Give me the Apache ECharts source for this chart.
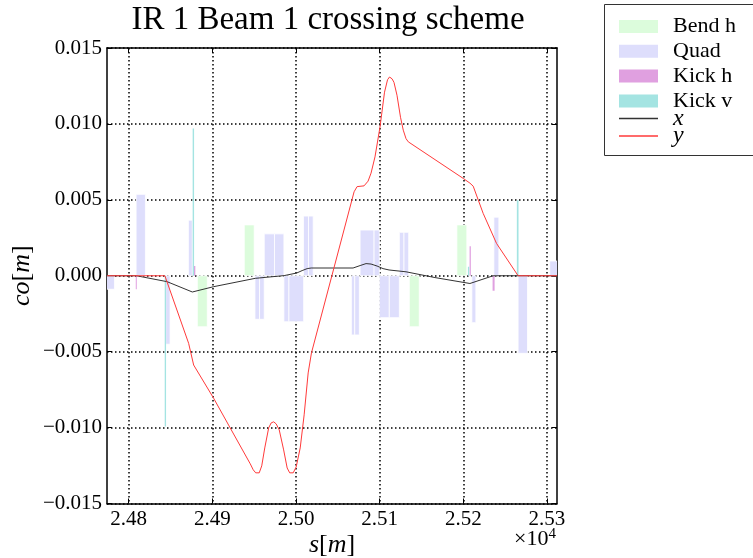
<!DOCTYPE html>
<html><head><meta charset="utf-8">
<script src="https://cdn.jsdelivr.net/npm/echarts@6/dist/echarts.min.js"></script>
<style>html,body{margin:0;padding:0;background:#fff}#c{width:753px;height:558px}</style>
</head><body><div id="c"></div>
<script>
// ---- data (s in metres, values in metres) ----
const xTickValues = [24800, 24900, 25000, 25100, 25200, 25300];
const yTickValues = [-0.015, -0.010, -0.005, 0, 0.005, 0.010, 0.015];
const seriesNames = ['Bend h', 'Quad', 'Kick h', 'Kick v', 'x', 'y'];

// elements: [s start, s end, value]
const bendH = [
  [24882.0, 24893.9, -0.00336],
  [24938.1, 24950.0, 0.00335],
  [25135.4, 25147.3, -0.00336],
  [25192.3, 25204.2, 0.00335]
];
const quad = [
  [24770.0, 24782.9, -0.00089],
  [24808.8, 24819.9, 0.00536],
  [24844.2, 24849.4, -0.00451],
  [24871.3, 24876.0, 0.00366],
  [24950.9, 24956.4, -0.00287],
  [24956.4, 24962.0, -0.00287],
  [24962.0, 24974.3, 0.00276],
  [24974.3, 24985.5, 0.00276],
  [24985.5, 24991.5, -0.00303],
  [24991.5, 25009.1, -0.00303],
  [25008.9, 25014.9, 0.00393],
  [25014.9, 25020.5, 0.00393],
  [25066.2, 25070.2, -0.00390],
  [25070.2, 25075.7, -0.00390],
  [25076.6, 25093.3, 0.00301],
  [25093.3, 25099.6, 0.00301],
  [25099.6, 25111.5, -0.00276],
  [25111.5, 25123.5, -0.00276],
  [25123.5, 25129.1, 0.00286],
  [25129.1, 25134.7, 0.00286],
  [25210.2, 25215.0, -0.00309],
  [25236.5, 25242.5, 0.00386],
  [25265.5, 25276.7, -0.00511],
  [25303.3, 25320.0, 0.00097]
];
const kickH = [
  [24808.4, 24809.6, -0.00089],
  [24877.8, 24879.6, 0.00064],
  [25207.5, 25209.0, 0.00195],
  [25235.0, 25237.4, -0.00099]
];
const kickV = [
  [24843.0, 24844.6, -0.00993],
  [24876.4, 24878.1, 0.00970],
  [25205.5, 25207.0, 0.00060],
  [25264.0, 25266.0, 0.00498]
];
// orbit x: [s, co]
const orbitX = [
  [24774.2, 0], [24809.2, 0], [24845.8, -0.00039], [24876.0, -0.00107],
  [24901.5, -0.00072], [24951.2, -0.00017], [24985.8, 0.00001], [25000.8, 0.00018],
  [25007.3, 0.00034], [25013.3, 0.00047], [25018.1, 0.00051], [25068.2, 0.00051],
  [25076.6, 0.00067], [25083.7, 0.00080], [25089.7, 0.00077], [25096.9, 0.00064],
  [25104.0, 0.00047], [25111.2, 0.00038], [25131.5, 0.00026], [25166.1, -0.00012],
  [25207.9, -0.00051], [25235.7, 0], [25312.0, 0]
];
// orbit y: [s, co]
const orbitY = [
  [24774.2, 0], [24843.2, 0], [24871.6, -0.00445], [24877.6, -0.00588],
  [24901.5, -0.00807], [24945.3, -0.01239], [24948.8, -0.01278], [24951.8, -0.01298],
  [24956.0, -0.01298], [24959.0, -0.01252], [24962.6, -0.01134], [24967.3, -0.01002],
  [24970.3, -0.00969], [24973.3, -0.00962], [24976.3, -0.00976], [24979.9, -0.01015],
  [24985.2, -0.01147], [24989.4, -0.01266], [24992.4, -0.01298], [24996.6, -0.01298],
  [25000.2, -0.01259], [25005.0, -0.01134], [25009.7, -0.00916], [25014.5, -0.00640],
  [25018.4, -0.00509], [25069.4, 0.00553], [25073.0, 0.00587], [25081.3, 0.00592],
  [25086.1, 0.00623], [25089.7, 0.00676], [25094.4, 0.00783], [25100.4, 0.00980],
  [25105.8, 0.01209], [25109.4, 0.01291], [25111.8, 0.01309], [25114.8, 0.01297],
  [25117.1, 0.01274], [25120.7, 0.01189], [25124.9, 0.01044], [25128.2, 0.00959],
  [25131.5, 0.00903], [25134.2, 0.00882], [25199.9, 0.00641], [25207.9, 0.00610],
  [25211.8, 0.00590], [25223.7, 0.00411], [25239.7, 0.00213], [25265.5, 0],
  [25312.0, 0]
];

const FONT = '"Liberation Serif", "DejaVu Serif", serif';
const COL = { bend: '#dcfcdc', quad: '#dedefc', kickh: '#e0a0e0', kickv: '#a4e4e2', x: '#333333', y: '#ff3a3a' };

function boxSeries(name, data, color, stroke) {
  return {
    name, type: 'custom', data, clip: true, z: 2,
    itemStyle: { color },
    encode: { x: [0, 1], y: 2 },
    renderItem(params, api) {
      const p0 = api.coord([api.value(0), 0]);
      const p1 = api.coord([api.value(1), api.value(2)]);
      return {
        type: 'rect',
        shape: { x: Math.min(p0[0], p1[0]), y: Math.min(p0[1], p1[1]), width: Math.abs(p1[0] - p0[0]), height: Math.abs(p1[1] - p0[1]) },
        style: { fill: color, stroke: stroke ? '#ffffff' : null, lineWidth: stroke ? 0.8 : 0 }
      };
    }
  };
}

const chart = echarts.init(document.getElementById('c'), null, { renderer: 'canvas' });
const dotted = { color: '#000', width: 1.5, type: [1.5, 2.5] };
const richItalic = { i: { fontFamily: FONT, fontStyle: 'italic', fontSize: 26, color: '#000' }, r: { fontFamily: FONT, fontSize: 26, color: '#000' } };

chart.setOption({
  animation: false,
  backgroundColor: '#fff',
  title: {
    text: 'IR 1 Beam 1 crossing scheme', left: 328, top: 4, padding: 0, textAlign: 'center',
    textStyle: { fontFamily: FONT, fontSize: 33, fontWeight: 'normal', color: '#000' }
  },
  graphic: [
    { type: 'rect', z: 1, shape: { x: 604.5, y: 4.5, width: 160, height: 151 }, style: { fill: '#fff', stroke: '#333', lineWidth: 1 } },
    { type: 'text', z: 10, right: 197, top: 527,
      style: { text: '×10{s|4}', fontFamily: FONT, fontSize: 22, fill: '#000',
        rich: { s: { fontFamily: FONT, fontSize: 15, verticalAlign: 'top', padding: [0, 0, 10, 0] } } } }
  ],
  legend: [
    {
      data: seriesNames.slice(0, 4).map(n => ({ name: n, icon: 'rect' })),
      orient: 'vertical', left: 619, top: 15.5, padding: 0, itemWidth: 39, itemHeight: 13, itemGap: 2.8,
      formatter: n => '{n|' + n + '}',
      textStyle: { fontFamily: FONT, fontSize: 22, color: '#000',
        rich: { n: { fontFamily: FONT, fontSize: 22, padding: [0, 0, 0, 10] } } }
    },
    {
      data: seriesNames.slice(4).map(n => ({ name: n, icon: 'rect' })),
      orient: 'vertical', left: 619, top: 106.5, padding: 0, itemWidth: 39, itemHeight: 1.5, itemGap: -6.5,
      formatter: n => '{i|' + n + '}',
      textStyle: { fontFamily: FONT, fontSize: 22, color: '#000',
        rich: { i: { fontFamily: FONT, fontStyle: 'italic', fontSize: 24, padding: [0, 0, 0, 10] } } }
    }
  ],
  grid: { left: 107, top: 48, right: 196, bottom: 54.5, containLabel: false, outerBoundsMode: 'none' },
  xAxis: [
    {
      type: 'value', min: 24774, max: 25312, position: 'bottom',
      name: '{i|s}{r|[}{i|m}{r|]}', nameLocation: 'middle', nameGap: 29, nameMoveOverlap: false,
      nameTextStyle: { rich: richItalic, verticalAlign: 'top' },
      axisLine: { show: true, onZero: false, lineStyle: { color: '#000', width: 1.5 } },
      axisTick: { show: true, inside: true, length: 5, customValues: xTickValues, lineStyle: { color: '#000', width: 1 } },
      axisLabel: { show: true, customValues: xTickValues, margin: 5, fontFamily: FONT, fontSize: 21, color: '#000',
        formatter: v => (v / 1e4).toFixed(2) },
      splitLine: { show: true, lineStyle: dotted }
    },
    {
      type: 'value', min: 24774, max: 25312, position: 'top',
      axisLine: { show: true, onZero: false, lineStyle: { color: '#000', width: 1.5 } },
      axisTick: { show: true, inside: true, length: 5, customValues: xTickValues, lineStyle: { color: '#000', width: 1 } },
      axisLabel: { show: false }, splitLine: { show: false }
    }
  ],
  yAxis: [
    {
      type: 'value', min: -0.015, max: 0.015, interval: 0.005, position: 'left',
      name: '{i|co}{r|[}{i|m}{r|]}', nameLocation: 'middle', nameGap: 72, nameRotate: 90, nameMoveOverlap: false,
      nameTextStyle: { rich: richItalic },
      axisLine: { show: true, onZero: false, lineStyle: { color: '#000', width: 1.5 } },
      axisTick: { show: true, inside: true, length: 5, lineStyle: { color: '#000', width: 1 } },
      axisLabel: { show: true, margin: 5, fontFamily: FONT, fontSize: 21, color: '#000',
        formatter: v => { const r = Math.round(v * 1000) / 1000; return (r < 0 ? '\u2212' : '') + Math.abs(r).toFixed(3); } },
      splitLine: { show: true, lineStyle: dotted }
    },
    {
      type: 'value', min: -0.015, max: 0.015, interval: 0.005, position: 'right',
      axisLine: { show: true, onZero: false, lineStyle: { color: '#000', width: 1.5 } },
      axisTick: { show: true, inside: true, length: 5, lineStyle: { color: '#000', width: 1 } },
      axisLabel: { show: false }, splitLine: { show: false }
    }
  ],
  series: [
    boxSeries('Bend h', bendH, COL.bend, true),
    boxSeries('Quad', quad, COL.quad, true),
    boxSeries('Kick h', kickH, COL.kickh, false),
    boxSeries('Kick v', kickV, COL.kickv, false),
    { name: 'x', type: 'line', data: orbitX, symbol: 'none', z: 3, clip: true,
      lineStyle: { color: COL.x, width: 1 }, itemStyle: { color: COL.x } },
    { name: 'y', type: 'line', data: orbitY, symbol: 'none', z: 4, clip: true,
      lineStyle: { color: COL.y, width: 1 }, itemStyle: { color: COL.y } }
  ]
});
</script></body></html>
